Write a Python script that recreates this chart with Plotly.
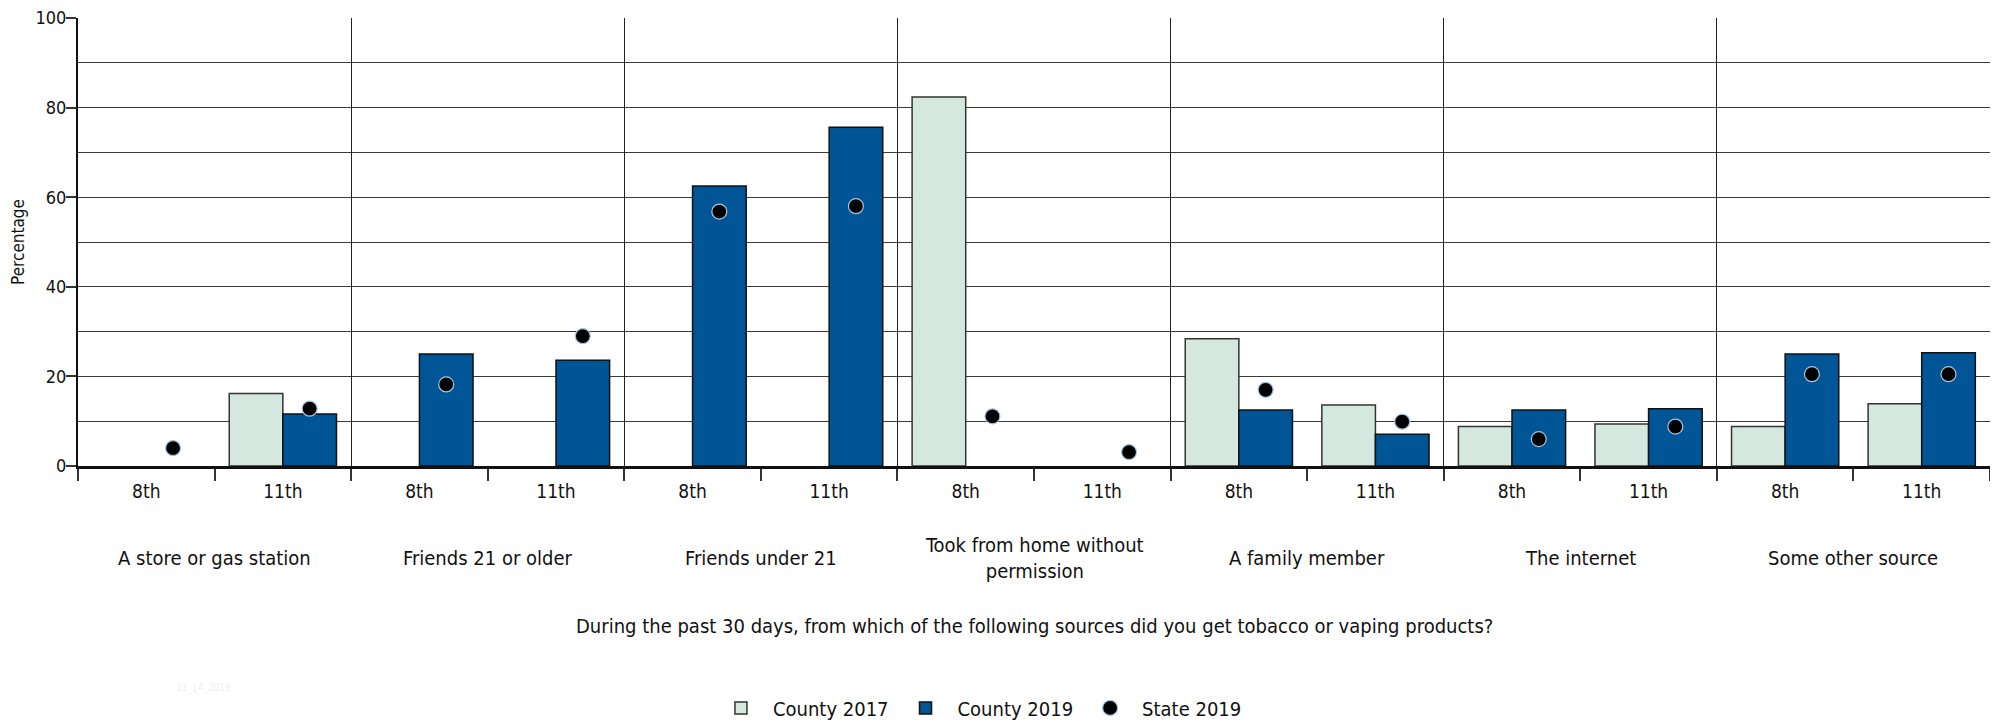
import plotly.graph_objects as go

categories = ["A store or gas station", "Friends 21 or older", "Friends under 21",
              "Took from home without<br>permission", "A family member",
              "The internet", "Some other source"]
grades = ["8th", "11th"]

county_2017 = [None, 16.2, None, None, None, None, 82.4, None, 28.4, 13.6, 8.8, 9.4, 8.8, 13.9]
county_2019 = [None, 11.6, 25.0, 23.6, 62.5, 75.6, None, None, 12.5, 7.1, 12.5, 12.8, 25.0, 25.3]
state_2019 = [4.0, 12.8, 18.2, 29.0, 56.8, 58.0, 11.1, 3.1, 17.0, 9.9, 6.0, 8.8, 20.5, 20.5]

y_ticks = [0, 20, 40, 60, 80, 100]

FONT = "Liberation Sans Narrow, Arial Narrow, DejaVu Sans Condensed, sans-serif"

n = len(categories) * len(grades)
xs = list(range(n))
tick_text = [grades[i % 2] for i in xs]
boundaries = [i - 0.5 for i in range(n + 1)]
cat_bounds = [2 * k + 1.5 for k in range(len(categories) - 1)]
cat_centers = [2 * k + 0.5 for k in range(len(categories))]
DOT_OFFSET = 0.196

fig = go.Figure()
fig.add_trace(go.Bar(
    x=xs, y=county_2017, name="County 2017",
    marker=dict(color="#d5e8e0", line=dict(color="#333333", width=1.5)),
))
fig.add_trace(go.Bar(
    x=xs, y=county_2019, name="County 2019",
    marker=dict(color="#005596", line=dict(color="#111111", width=1.5)),
))
fig.add_trace(go.Scatter(
    x=[i + DOT_OFFSET for i in xs], y=state_2019, name="State 2019", mode="markers",
    marker=dict(color="black", size=15, line=dict(color="#a9c4e0", width=1.2)),
))
# invisible trace on xaxis2 to activate separator grid
fig.add_trace(go.Scatter(x=[None], y=[None], xaxis="x2", showlegend=False, hoverinfo="skip"))

# page body has an 8px default margin, so the figure is 8px smaller and margins shifted
fig.update_layout(
    width=1990, height=716,
    paper_bgcolor="white", plot_bgcolor="white",
    margin=dict(l=70, r=8, t=10, b=258, autoexpand=False),
    barmode="group", bargap=0.215, bargroupgap=0,
    font=dict(family=FONT, size=19, color="#111111"),
    showlegend=True,
    legend=dict(orientation="h", x=0.330, xanchor="left", y=-0.54, yanchor="middle",
                font=dict(size=20), itemsizing="trace", traceorder="normal",
                itemwidth=54),
    xaxis=dict(range=[-0.5, n - 0.5], tickmode="array", tickvals=xs, ticktext=tick_text,
               ticks="", showgrid=False, zeroline=False, automargin=False,
               showline=True, linecolor="#111111", linewidth=2.5,
               tickfont=dict(size=19), ticklabelstandoff=6,
               minor=dict(tickmode="array", tickvals=boundaries, ticks="outside",
                          ticklen=12, tickcolor="#333333", tickwidth=1.5, showgrid=False)),
    xaxis2=dict(overlaying="x", range=[-0.5, n - 0.5], tickmode="array", tickvals=cat_bounds,
                showticklabels=False, ticks="", showgrid=True, gridcolor="#222222",
                gridwidth=1.3, zeroline=False, showline=False, side="bottom", automargin=False),
    yaxis=dict(range=[0, 100.01], tickmode="array", tickvals=y_ticks, ticks="outside",
               ticklen=10, tickcolor="#333333", tickwidth=1.5, automargin=False,
               ticklabeloverflow="allow", ticklabelstandoff=-4,
               showgrid=True, gridcolor="#3a3a3a", gridwidth=1.3, zeroline=False,
               showline=True, linecolor="#111111", linewidth=2, mirror=True,
               tickfont=dict(size=18),
               minor=dict(dtick=10, showgrid=True, gridcolor="#3a3a3a", gridwidth=1.3, ticks=""),
               title=dict(text="Percentage", font=dict(size=17), standoff=10)),
)

for xc, label in zip(cat_centers, categories):
    fig.add_annotation(x=xc, y=0, xref="x", yref="paper", text=label, showarrow=False,
                       yanchor="middle", yshift=-92, font=dict(size=20))

fig.add_annotation(x=0.5, y=0, xref="paper", yref="paper",
                   text="During the past 30 days, from which of the following sources did you get tobacco or vaping products?",
                   showarrow=False, yanchor="middle", yshift=-160, font=dict(size=20))

fig.add_annotation(x=0.05, y=0, xref="paper", yref="paper", text="11_14_2019",
                   showarrow=False, yanchor="middle", yshift=-222, font=dict(size=10, color="#f0f0f0"))

fig.write_html("out.html")
